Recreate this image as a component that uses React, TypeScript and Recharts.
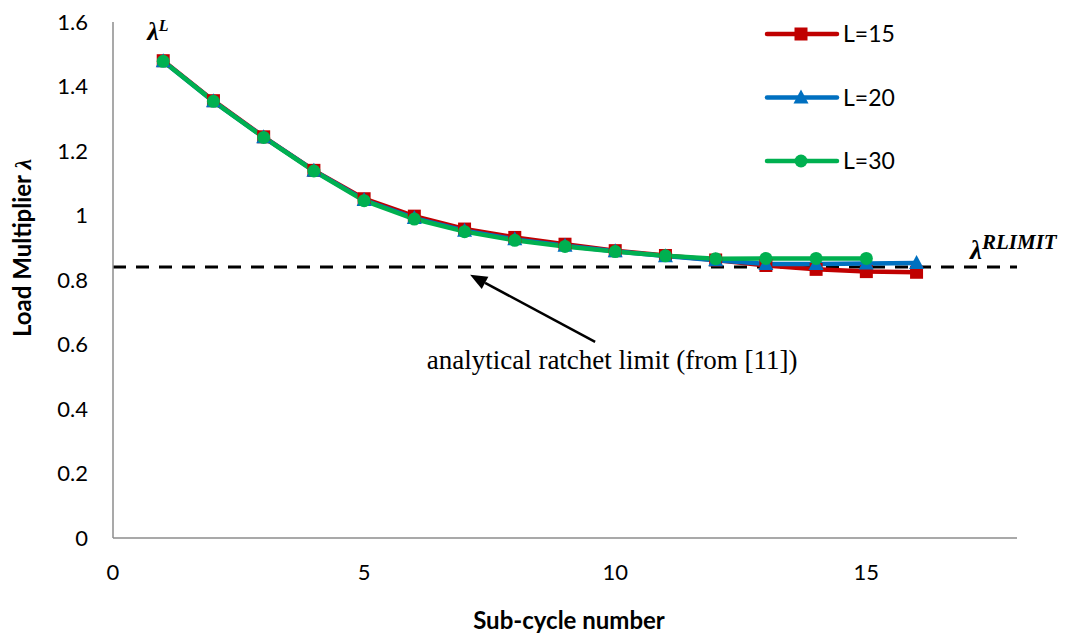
import React from 'react';
import { LineChart, Line, XAxis, YAxis, ReferenceLine, ReferenceDot } from 'recharts';

// Sub-cycle numbers and load multipliers for each L
const subCycles = [1, 2, 3, 4, 5, 6, 7, 8, 9, 10, 11, 12, 13, 14, 15, 16];
const seriesL15 = [1.480, 1.356, 1.244, 1.140, 1.052, 0.998, 0.958, 0.932, 0.911, 0.891, 0.876, 0.862, 0.845, 0.833, 0.826, 0.824];
const seriesL20 = [1.478, 1.354, 1.243, 1.139, 1.048, 0.992, 0.953, 0.926, 0.906, 0.889, 0.874, 0.861, 0.850, 0.850, 0.851, 0.853];
const seriesL30 = [1.478, 1.354, 1.242, 1.138, 1.046, 0.989, 0.950, 0.923, 0.904, 0.888, 0.875, 0.866, 0.867, 0.867, 0.867, null];

const xTicks = [0, 5, 10, 15];
const yTicks = [0, 0.2, 0.4, 0.6, 0.8, 1, 1.2, 1.4, 1.6];

// Analytical ratchet limit and its annotation arrow (data coordinates)
const ratchetLimit = 0.84;
const arrowFrom = { x: 9.6, y: 0.608 };
const arrowTo = { x: 7.11, y: 0.816 };
const annotationText = 'analytical ratchet limit (from [11])';

const RED = '#C00000';
const BLUE = '#0070C0';
const GREEN = '#00B050';

const rows = subCycles.map((x, i) => ({ x, l15: seriesL15[i], l20: seriesL20[i], l30: seriesL30[i] }));

const legendItems = [
  { name: 'L=15', color: RED, shape: 'square' },
  { name: 'L=20', color: BLUE, shape: 'triangle' },
  { name: 'L=30', color: GREEN, shape: 'circle' },
];

const SANS = 'Lato, "Open Sans", sans-serif';
const SERIF = '"Liberation Serif", "Times New Roman", serif';

function Marker({ shape, color, cx, cy }: { shape: string; color: string; cx: number; cy: number }) {
  if (shape === 'square') return <rect x={cx - 6.5} y={cy - 6.5} width={13} height={13} fill={color} />;
  if (shape === 'triangle')
    return <polygon points={`${cx},${cy - 8} ${cx + 7.5},${cy + 6} ${cx - 7.5},${cy + 6}`} fill={color} />;
  return <circle cx={cx} cy={cy} r={6.5} fill={color} />;
}

const makeDot = (shape: string, color: string) => (props: any) => {
  const { cx, cy, index, value } = props;
  if (cx == null || cy == null || value == null) return <g key={`d-${shape}-${index}`} />;
  return (
    <g key={`d-${shape}-${index}`}>
      <Marker shape={shape} color={color} cx={cx} cy={cy} />
    </g>
  );
};

const ArrowShape = (props: any) => {
  const { x1, y1, x2, y2 } = props;
  const ang = Math.atan2(y2 - y1, x2 - x1);
  const headLen = 17;
  const headHalf = 7;
  const bx = x2 - headLen * Math.cos(ang);
  const by = y2 - headLen * Math.sin(ang);
  const px = -Math.sin(ang) * headHalf;
  const py = Math.cos(ang) * headHalf;
  return (
    <g>
      <line x1={x1} y1={y1} x2={bx} y2={by} stroke="#000" strokeWidth={2.5} />
      <polygon points={`${x2},${y2} ${bx + px},${by + py} ${bx - px},${by - py}`} fill="#000" />
      <text x={x1 + 17} y={y1 + 27} textAnchor="middle" fontFamily={SERIF} fontSize={27} fill="#000">
        {annotationText}
      </text>
    </g>
  );
};

const LimitLabel = (props: any) => {
  const { viewBox } = props;
  const xr = viewBox.x + viewBox.width;
  const y = viewBox.y;
  return (
    <text x={xr - 47} y={y - 8} fontFamily={SERIF} fontWeight="bold" fontStyle="italic" fill="#000">
      <tspan fontSize={27}>λ</tspan>
      <tspan fontSize={21} dy={-10}>RLIMIT</tspan>
    </text>
  );
};

const FirstPointLabel = (props: any) => {
  const { viewBox } = props;
  const cx = viewBox.x + viewBox.width / 2;
  const cy = viewBox.y + viewBox.height / 2;
  return (
    <text x={cx - 16} y={cy - 21} fontFamily={SERIF} fontWeight="bold" fontStyle="italic" fill="#000">
      <tspan fontSize={26}>λ</tspan>
      <tspan fontSize={16} dy={-9}>L</tspan>
    </text>
  );
};

function LegendBox() {
  return (
    <svg width={150} height={200} style={{ position: 'absolute', left: 760, top: 0 }}>
      {legendItems.map((it, i) => {
        const cy = 34 + i * 63.5;
        return (
          <g key={it.name}>
            <line x1={7} y1={cy} x2={77} y2={cy} stroke={it.color} strokeWidth={4.5} strokeLinecap="round" />
            <Marker shape={it.shape} color={it.color} cx={41} cy={cy} />
            <text x={83} y={cy + 8} fontFamily={SANS} fontSize={23} fill="#000">
              {it.name}
            </text>
          </g>
        );
      })}
    </svg>
  );
}

export default function App() {
  return (
    <div style={{ position: 'absolute', left: 0, top: 0, width: 1069, height: 640, background: '#fff' }}>
      <LineChart width={1069} height={640} data={rows} margin={{ top: 22, right: 52, bottom: 0, left: 0 }}>
        <XAxis
          dataKey="x"
          type="number"
          domain={[0, 18]}
          ticks={xTicks}
          height={102}
          tickLine={false}
          tickSize={0}
          tickMargin={26}
          axisLine={{ stroke: '#8c8c8c', strokeWidth: 1.5 }}
          tick={{ fontFamily: SANS, fontSize: 22, fill: '#000' }}
          label={{
            content: () => (
              <text x={569} y={629} textAnchor="middle" fontFamily={SANS} fontWeight="bold" fontSize={24} fill="#000">
                Sub-cycle number
              </text>
            ),
          }}
        />
        <YAxis
          type="number"
          domain={[0, 1.6]}
          ticks={yTicks}
          width={113}
          tickLine={false}
          tickSize={0}
          tickMargin={25}
          axisLine={{ stroke: '#8c8c8c', strokeWidth: 1.5 }}
          tick={{ fontFamily: SANS, fontSize: 22, fill: '#000' }}
          tickFormatter={(v: number) => String(v)}
          label={{
            content: () => (
              <text
                x={31}
                y={248}
                transform="rotate(-90 31 248)"
                textAnchor="middle"
                fontFamily={SANS}
                fontWeight="bold"
                fontSize={24}
                fill="#000"
              >
                Load Multiplier <tspan fontFamily={SERIF} fontStyle="italic">λ</tspan>
              </text>
            ),
          }}
        />
        <ReferenceLine
          y={ratchetLimit}
          stroke="#000"
          strokeWidth={3}
          strokeDasharray="13 10"
          label={<LimitLabel />}
        />
        <ReferenceLine segment={[arrowFrom, arrowTo]} shape={<ArrowShape />} ifOverflow="visible" />
        <Line
          dataKey="l15"
          stroke={RED}
          strokeWidth={4.5}
          dot={makeDot('square', RED)}
          activeDot={false}
          isAnimationActive={false}
        />
        <Line
          dataKey="l20"
          stroke={BLUE}
          strokeWidth={4.5}
          dot={makeDot('triangle', BLUE)}
          activeDot={false}
          isAnimationActive={false}
        />
        <Line
          dataKey="l30"
          stroke={GREEN}
          strokeWidth={4.5}
          dot={makeDot('circle', GREEN)}
          activeDot={false}
          isAnimationActive={false}
        />
        <ReferenceDot x={subCycles[0]} y={seriesL15[0]} r={0} fill="none" stroke="none" label={<FirstPointLabel />} ifOverflow="visible" />
      </LineChart>
      <LegendBox />
    </div>
  );
}
